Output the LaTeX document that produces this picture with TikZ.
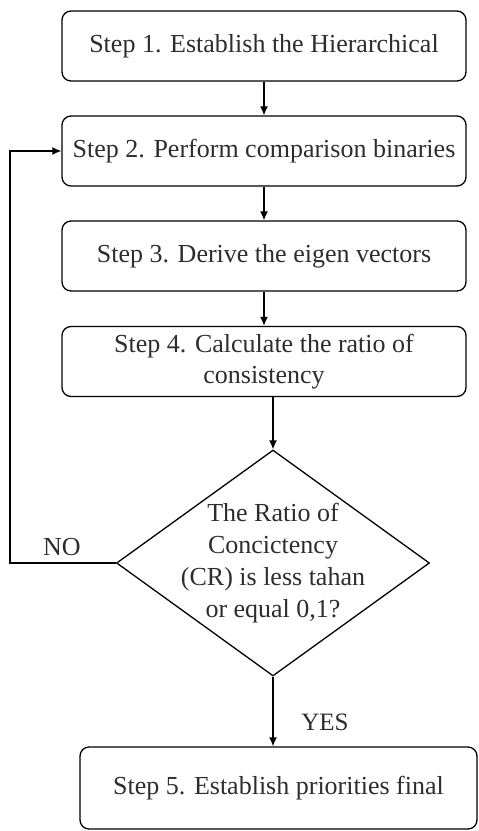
\documentclass[tikz,border=0pt]{standalone}
\usepackage{fontspec}
\setmainfont{Liberation Serif}
\usepackage{xcolor}
\definecolor{flowtext}{RGB}{45,45,45}
\usetikzlibrary{arrows.meta, positioning, shapes.geometric}

\begin{document}
\begin{tikzpicture}[x=1pt, y=-1pt, >={Latex[length=9pt,width=8pt]},
  stepbox/.style={draw, line width=1.3pt, rounded corners=9pt, minimum width=404pt, minimum height=70pt, align=center, inner sep=0pt, text=flowtext, font=\fontsize{26}{31}\selectfont},
  decision/.style={diamond, draw, line width=1.3pt, minimum width=313pt, minimum height=226pt, inner sep=0pt},
  lbl/.style={text=flowtext, align=center, font=\fontsize{26}{32}\selectfont},
  flow/.style={->, line width=1.3pt}]
  \useasboundingbox (0,0) rectangle (479,831);

  % Steps 1 to 4
  \node[stepbox] (s1) at (264,46) {Step 1. Establish the Hierarchical};
  \node[stepbox] (s2) at (264,151) {Step 2. Perform comparison binaries};
  \node[stepbox] (s3) at (264,256) {Step 3. Derive the eigen vectors};
  \node[stepbox] (s4) at (264,361.5) {Step 4. Calculate the ratio of\\consistency};

  % Decision
  \node[decision] (cr) at (273,563) {};
  \node[lbl] (crtext) at (cr) {The Ratio of\\Concictency\\(CR) is less tahan\\or equal 0,1?};

  % Step 5
  \node[stepbox, minimum width=397pt, minimum height=82pt] (s5) at (278.5,788) {Step 5. Establish priorities final};

  % Connectors
  \draw[flow] (s1) -- (s2);
  \draw[flow] (s2) -- (s3);
  \draw[flow] (s3) -- (s4);
  \draw[flow] (cr.north |- s4.south) -- (cr.north);
  \draw[flow] (cr.south) -- (cr.south |- s5.north);

  % NO loop back to step 2
  \coordinate (back) at (10,563);
  \draw[flow] (cr.west) -- (back) |- (s2.west);
  \node[lbl] (no) at (62,547) {NO};
  \node[lbl, font=\fontsize{25}{30}\selectfont] (yes) at (325,722) {YES};
\end{tikzpicture}
\end{document}
